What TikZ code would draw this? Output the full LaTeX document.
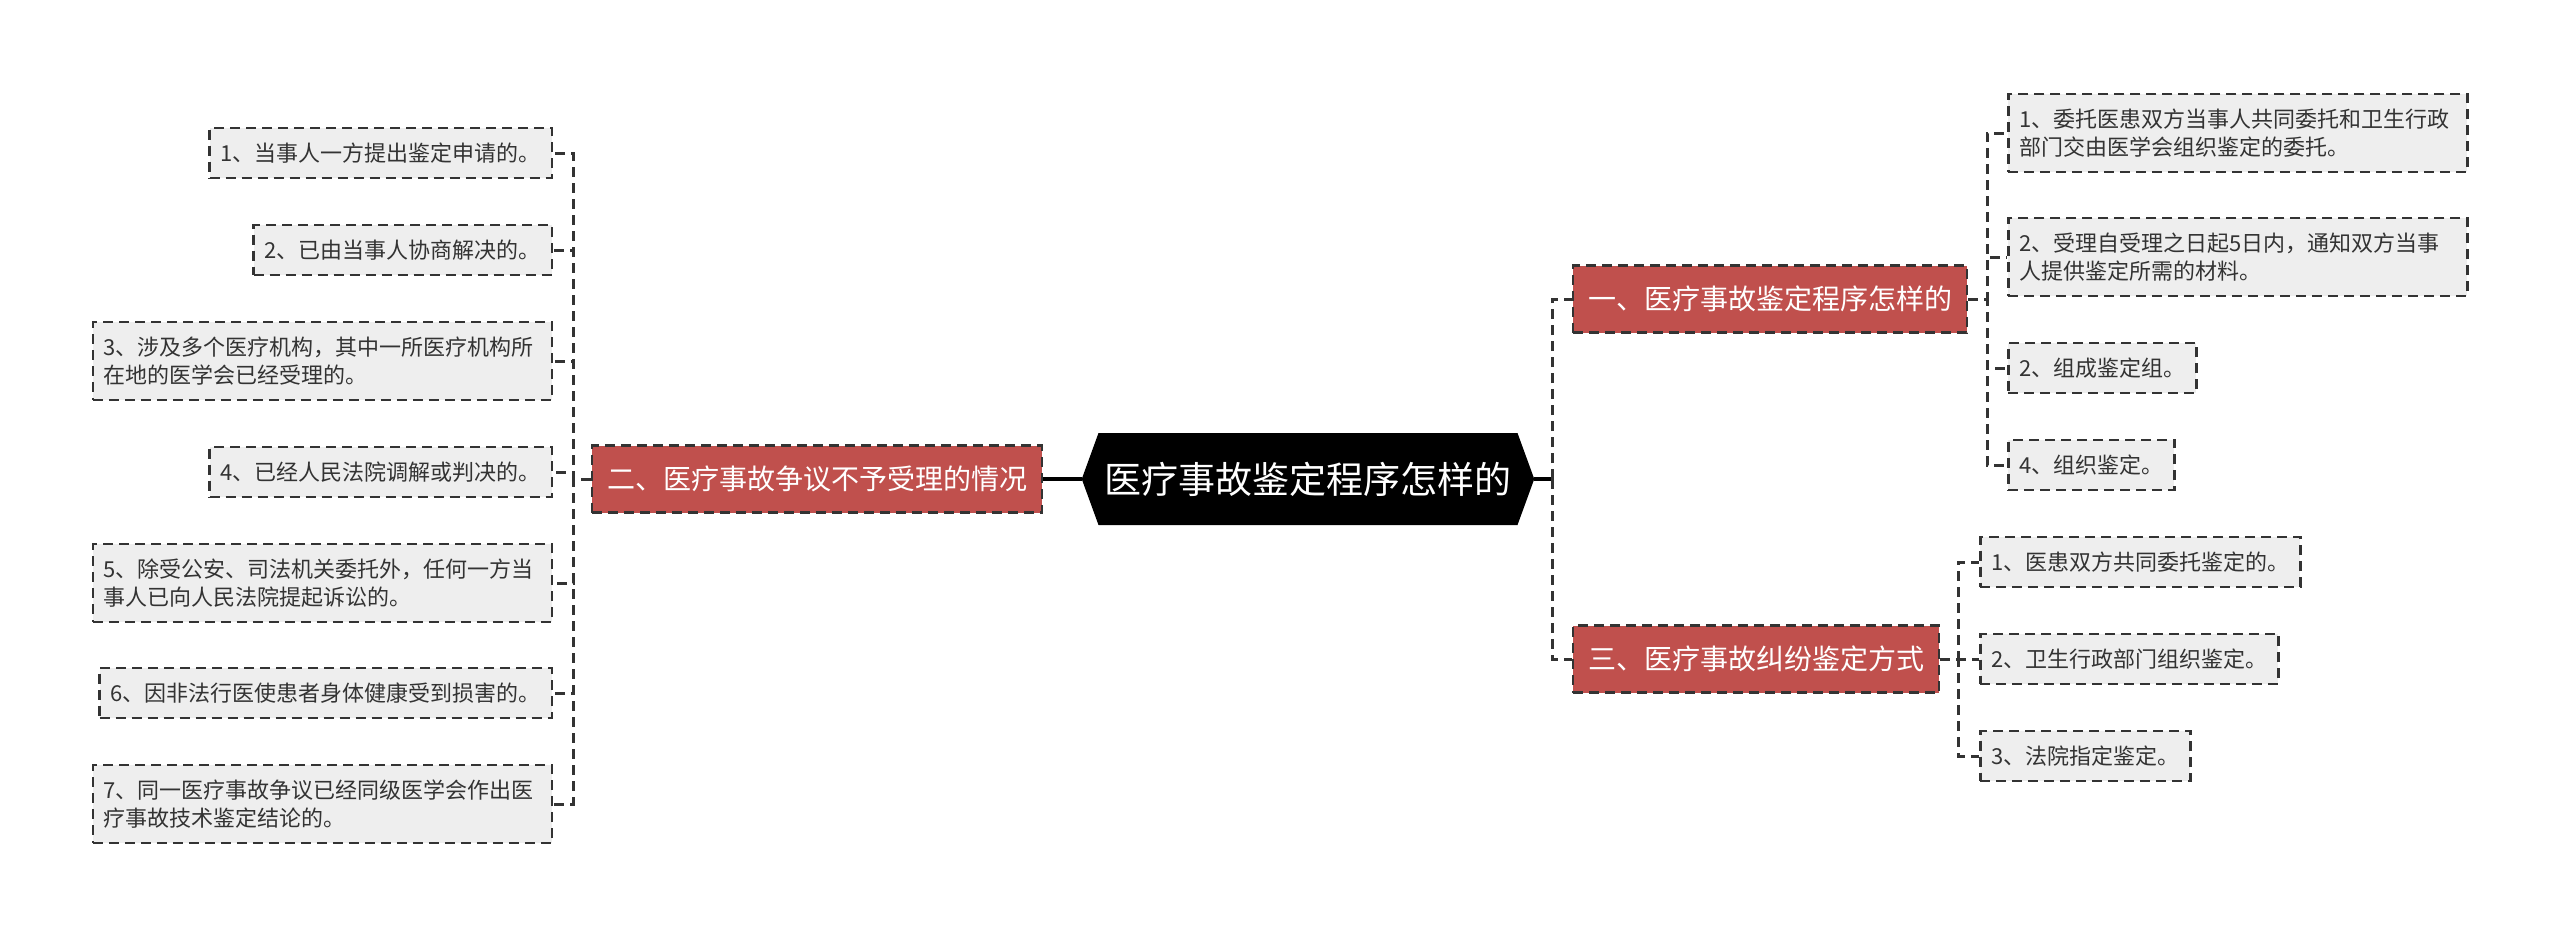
\documentclass[tikz,border=0pt]{standalone}
\usepackage{fontspec}
\setmainfont{Noto Sans CJK SC}
\usetikzlibrary{shapes.symbols}

\definecolor{secred}{HTML}{C0504D}
\definecolor{leafgray}{HTML}{EEEEEE}
\definecolor{inkgray}{HTML}{333333}

\tikzset{
  rootnode/.style={signal, signal to=east and west, signal pointer angle=140,
    fill=black, text=white, font=\fontsize{37pt}{44pt}\selectfont,
    minimum height=92pt, inner xsep=6pt},
  secbox/.style={draw=inkgray, dash pattern=on 10pt off 6pt, line width=2.5pt,
    fill=secred, text=white, font=\fontsize{28pt}{34pt}\selectfont,
    minimum height=67pt, inner xsep=15pt},
  leafbox/.style={draw=inkgray, dash pattern=on 10pt off 6pt, line width=2.5pt,
    fill=leafgray, text=inkgray, font=\fontsize{22pt}{28pt}\selectfont,
    minimum height=50pt, inner xsep=11pt},
  twoline/.style={text width=437pt, align=left, minimum height=78pt},
  link/.style={draw=inkgray, line width=3pt, dash pattern=on 10pt off 6pt},
  rootlink/.style={draw=black, line width=4pt},
}

\begin{document}
\begin{tikzpicture}[x=1pt, y=-1pt]
    \path[use as bounding box, fill=white] (0,0) rectangle (2560,937);

    % Centre
    \node[rootnode] (root) at (1308,479) {医疗事故鉴定程序怎样的};

    % Sections
    \node[secbox] (sec1) at (1770,299) {一、医疗事故鉴定程序怎样的};
    \node[secbox] (sec2) at (817,479) {二、医疗事故争议不予受理的情况};
    \node[secbox] (sec3) at (1756,659) {三、医疗事故纠纷鉴定方式};

    % Section one leaves
    \node[leafbox, twoline, anchor=west] (one1) at (2007,133) {1、委托医患双方当事人共同委托和卫生行政\\部门交由医学会组织鉴定的委托。};
    \node[leafbox, twoline, anchor=west] (one2) at (2007,257) {2、受理自受理之日起5日内，通知双方当事\\人提供鉴定所需的材料。};
    \node[leafbox, anchor=west] (one3) at (2007,368) {2、组成鉴定组。};
    \node[leafbox, anchor=west] (one4) at (2007,465) {4、组织鉴定。};

    % Section two leaves
    \node[leafbox, anchor=east] (two1) at (553,153) {1、当事人一方提出鉴定申请的。};
    \node[leafbox, anchor=east] (two2) at (553,250) {2、已由当事人协商解决的。};
    \node[leafbox, twoline, anchor=east] (two3) at (553,361) {3、涉及多个医疗机构，其中一所医疗机构所\\在地的医学会已经受理的。};
    \node[leafbox, anchor=east] (two4) at (553,472) {4、已经人民法院调解或判决的。};
    \node[leafbox, twoline, anchor=east] (two5) at (553,583) {5、除受公安、司法机关委托外，任何一方当\\事人已向人民法院提起诉讼的。};
    \node[leafbox, anchor=east] (two6) at (553,693) {6、因非法行医使患者身体健康受到损害的。};
    \node[leafbox, twoline, anchor=east] (two7) at (553,804) {7、同一医疗事故争议已经同级医学会作出医\\疗事故技术鉴定结论的。};

    % Section three leaves
    \node[leafbox, anchor=west] (three1) at (1979,562) {1、医患双方共同委托鉴定的。};
    \node[leafbox, anchor=west] (three2) at (1979,659) {2、卫生行政部门组织鉴定。};
    \node[leafbox, anchor=west] (three3) at (1979,756) {3、法院指定鉴定。};

    % Bus points
    \coordinate (rbus) at (1552,479);
    \coordinate (bus1) at (1987,299);
    \coordinate (bus2) at (573,479);
    \coordinate (bus3) at (1958,659);

    % Root links
    \draw[rootlink] (root.west) -- (sec2.east);
    \draw[rootlink] (root.east) -- (rbus);
    \draw[link] (rbus) |- (sec1.west);
    \draw[link] (rbus) |- (sec3.west);

    % Section links
    \foreach \leaf in {one1,one2,one3,one4}
        \draw[link] (sec1.east) -- (bus1) |- (\leaf.west);
    \foreach \leaf in {two1,two2,two3,two4,two5,two6,two7}
        \draw[link] (sec2.west) -- (bus2) |- (\leaf.east);
    \foreach \leaf in {three1,three2,three3}
        \draw[link] (sec3.east) -- (bus3) |- (\leaf.west);
\end{tikzpicture}
\end{document}
